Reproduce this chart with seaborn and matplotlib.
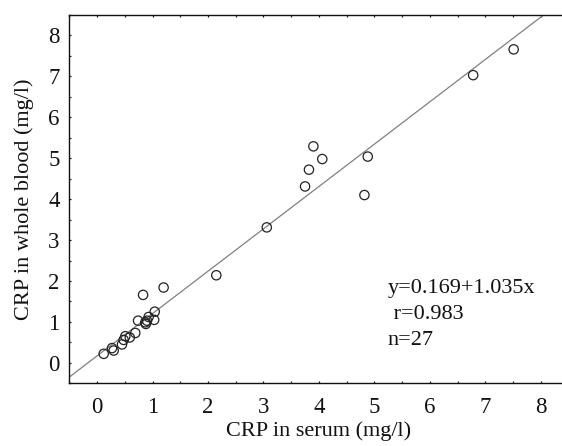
import matplotlib
matplotlib.use("Agg")
import matplotlib.pyplot as plt
from matplotlib.ticker import MultipleLocator
import seaborn as sns
import numpy as np
import pandas as pd

serum = [0.12, 0.27, 0.30, 0.45, 0.48, 0.51, 0.59, 0.69, 0.74, 0.83,
         0.87, 0.88, 0.90, 0.93, 1.03, 1.04, 1.20, 2.15, 3.06, 3.75,
         3.82, 3.90, 4.06, 4.82, 4.88, 6.78, 7.51]
whole_blood = [0.22, 0.36, 0.30, 0.45, 0.56, 0.65, 0.62, 0.73, 1.03, 1.66,
               0.99, 0.95, 1.03, 1.12, 1.05, 1.25, 1.84, 2.14, 3.31, 4.31,
               4.72, 5.29, 4.98, 4.10, 5.04, 7.03, 7.66]

# regression reported on the chart
intercept = 0.169
slope = 1.035
r_value = 0.983

df = pd.DataFrame({"serum": serum, "blood": whole_blood})

sns.set_theme(style="ticks")
plt.rcParams["font.family"] = ["Liberation Serif", "DejaVu Serif"]

fig = plt.figure(figsize=(5.62, 4.46), dpi=100)
# axes runs past the right edge, like the cropped original
ax = fig.add_axes([0.1233, 0.1406, 0.8884, 0.8258])

ax.set_xlim(-0.5, 8.5)
ax.set_ylim(-0.5, 8.5)

# regression line
xs = np.array(ax.get_xlim())
ax.plot(xs, intercept + slope * xs, color="#808080", lw=0.9, zorder=1)

sns.scatterplot(data=df, x="serum", y="blood", ax=ax, s=45,
                facecolor="none", edgecolor="#222222", linewidth=0.9,
                zorder=2)

ax.xaxis.set_major_locator(MultipleLocator(1))
ax.xaxis.set_minor_locator(MultipleLocator(0.5))
ax.yaxis.set_major_locator(MultipleLocator(1))
ax.yaxis.set_minor_locator(MultipleLocator(0.5))

ax.tick_params(which="major", direction="out", length=5, width=0.9,
               labelsize=16.5, colors="#111111")
ax.tick_params(which="minor", direction="out", length=3, width=0.9)
ax.tick_params(axis="x", which="major", pad=10)
ax.tick_params(axis="y", which="major", pad=7)
ax.tick_params(top=True, which="both", direction="in", length=1.5)

for side in ["left", "bottom", "top"]:
    ax.spines[side].set_visible(True)
    ax.spines[side].set_color("#111111")
    ax.spines[side].set_linewidth(1.0)
ax.spines["right"].set_visible(False)

ax.set_xlabel("CRP in serum (mg/l)", fontsize=16, color="#111111", labelpad=2)
ax.set_ylabel("CRP in whole blood (mg/l)", fontsize=16, color="#111111",
              labelpad=10)

ax.text(5.24, 1.82, f"y={intercept}+{slope}x", fontsize=16, va="center",
        ha="left", color="#111111")
ax.text(5.24, 1.19, f" r={r_value}", fontsize=16, va="center", ha="left",
        color="#111111")
ax.text(5.24, 0.535, f"n={len(serum)}", fontsize=16, va="center", ha="left",
        color="#111111")

fig.savefig("out.png", dpi=100)
